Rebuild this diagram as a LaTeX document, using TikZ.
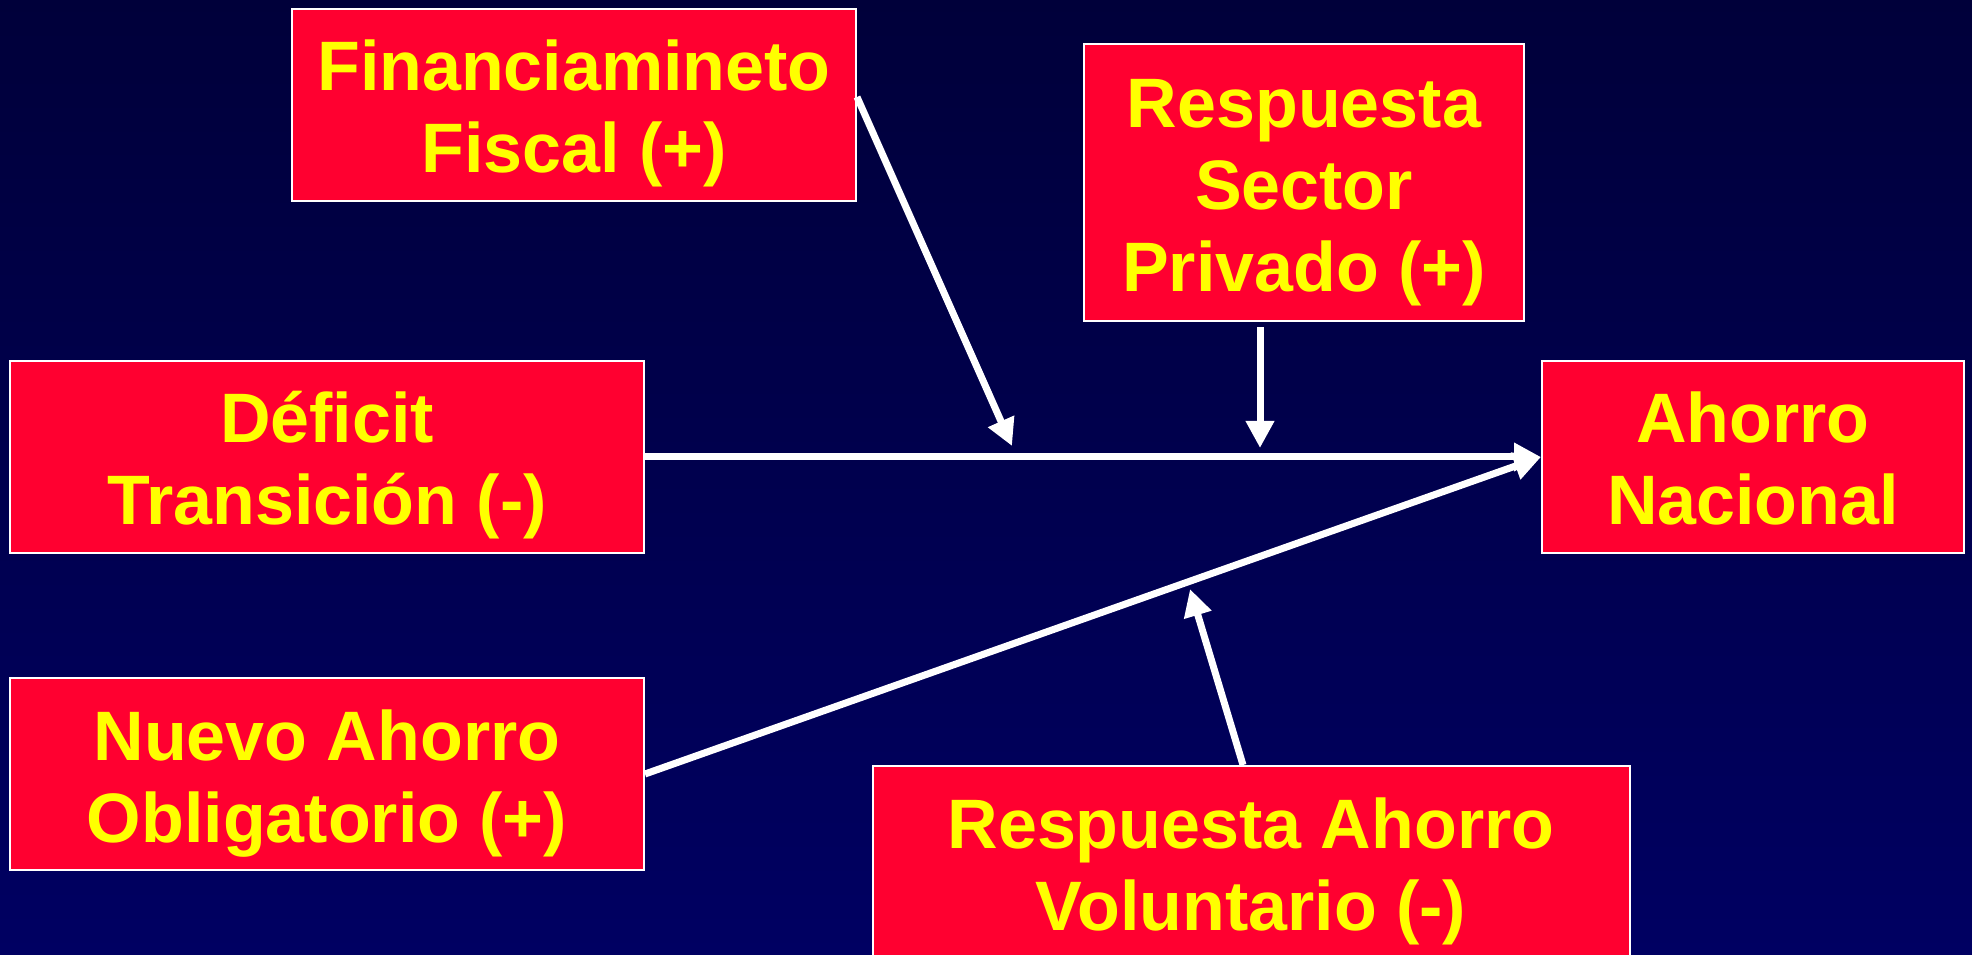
\documentclass[tikz,border=0pt]{standalone}
\usepackage{fontspec}
\setmainfont{Liberation Sans}
\usepackage{tikz}
\usetikzlibrary{arrows.meta, positioning}

\definecolor{bgtop}{RGB}{0,0,58}
\definecolor{bgbot}{RGB}{0,0,98}
\definecolor{boxred}{RGB}{255,0,48}
\definecolor{txtyellow}{RGB}{255,255,0}

% struts that lower the lines a little in the boxes
\newcommand{\topstrut}{\rule{0pt}{70pt}}
\newcommand{\botstrut}{\rule[-16pt]{0pt}{0pt}}

\tikzset{
  factor/.style={draw=white, line width=2pt, fill=boxred, text=txtyellow,
    align=center, inner sep=0pt, font=\fontsize{70}{82}\selectfont\bfseries},
  arr/.style={-{Triangle[width=27pt,length=27pt]}, white, line width=7pt}
}

\begin{document}
\begin{tikzpicture}[x=1pt,y=1pt]
                % background
                \useasboundingbox (0,0) rectangle (1972,954);
                \shade[top color=bgtop, bottom color=bgbot] (0,0) rectangle (1972,954);
                
                % Boxes
                \node[factor, minimum width=564pt, minimum height=192pt] (fin) at (574,849) {\topstrut Financiamineto\\Fiscal (+)\botstrut};
                \node[factor, minimum width=440pt, minimum height=277pt] (priv) at (1304,771) {\topstrut Respuesta\\Sector\\Privado (+)\botstrut};
                \node[factor, minimum width=634pt, minimum height=192pt] (def) at (327,497) {\topstrut Déficit\\Transición (-)\botstrut};
                \node[factor, minimum width=422pt, minimum height=192pt] (nac) at (1753,497) {\topstrut Ahorro\\Nacional\botstrut};
                \node[factor, minimum width=634pt, minimum height=192pt] (nue) at (327,180) {\topstrut Nuevo Ahorro\\Obligatorio (+)\botstrut};
                \node[factor, minimum width=757pt, minimum height=192pt, anchor=north] (vol) at (1251,189) {\topstrut Respuesta Ahorro\\Voluntario (-)\botstrut};
                
                % points on the main lines
                \coordinate (j1) at (1012,508);
                \coordinate (j2) at (1260,506);
                \coordinate (j3) at (1190,365);
                
                % Arrows
                \draw[arr] (def.east) -- (nac.west);
                \draw[arr] (nue.east) -- (nac.west);
                \draw[arr] ([yshift=8pt]fin.east) -- (j1);
                \draw[arr, shorten <=5pt] (priv.south -| j2) -- (j2);
                \draw[arr] ([xshift=-8pt]vol.north) -- (j3);
\end{tikzpicture}
\end{document}
